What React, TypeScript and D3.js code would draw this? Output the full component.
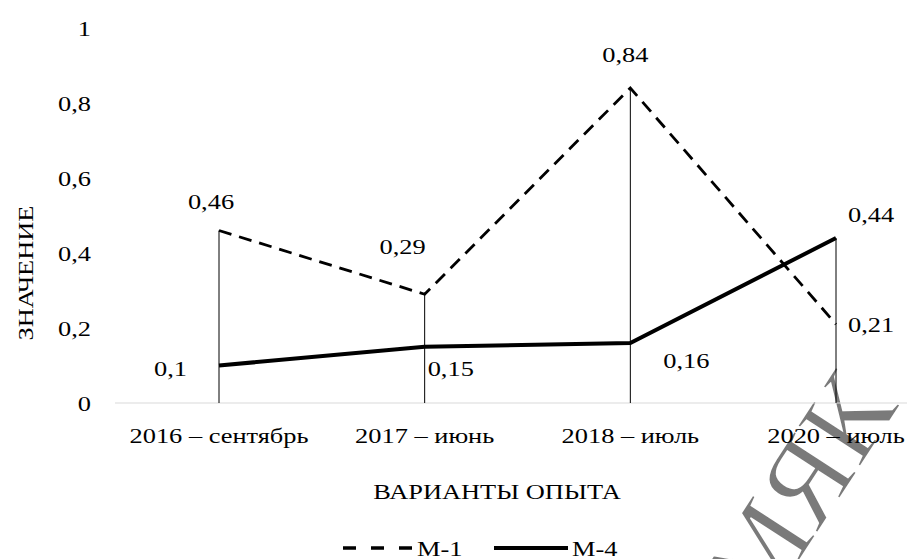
import * as d3 from 'd3';

const categories = ['2016 – сентябрь', '2017 – июнь', '2018 – июль', '2020 – июль'];
const m1 = [0.46, 0.29, 0.84, 0.21];
const m4 = [0.1, 0.15, 0.16, 0.44];
const yTicks = [0, 0.2, 0.4, 0.6, 0.8, 1];
const seriesNames = ['М-1', 'М-4'];

// label offsets relative to each point [dx, dy, anchor]
const m1Labels: [number, number, string][] = [[-8, -29, 'middle'], [-22, -48, 'middle'], [-5, -34, 'middle'], [12, 0, 'start']];
const m4Labels: [number, number, string][] = [[-32, 3, 'end'], [3, 22, 'start'], [56, 17, 'middle'], [12, -24, 'start']];

const width = 907;
const height = 559;
const fs = 22;
const sx = 1.2; // the reference text is stretched horizontally
const fmt = (v: number) => String(v).replace('.', ',');

function Label({ x, y, anchor = 'start', rotate = 0, children }: any) {
  return (
    <g transform={`translate(${x},${y}) rotate(${rotate}) scale(${sx},1)`}>
      <text dy="0.35em" textAnchor={anchor} fontSize={fs}>{children}</text>
    </g>
  );
}

export default function App() {
  const x = d3.scalePoint<string>().domain(categories).range([219, 836]);
  const y = d3.scaleLinear().domain([0, 1]).range([403, 28]);
  const line = d3.line<number>((d, i) => x(categories[i])!, (d) => y(d));

  return (
    <svg width={width} height={height} style={{ position: 'absolute', left: 0, top: 0, background: '#fff' }}
      fontFamily="'Liberation Serif', 'Times New Roman', serif">
      {/* watermark behind the chart */}
      <text transform="translate(762,618) rotate(-57)" fontSize={114} fill="#7a7a7a" stroke="#fff"
        strokeWidth={1.5}>МЯК</text>
      <line x1={115} x2={907} y1={y(0)} y2={y(0)} stroke="#d9d9d9" strokeWidth={1.2} />
      {yTicks.map((t) => (
        <Label key={t} x={91} y={y(t)} anchor="end">{fmt(t)}</Label>
      ))}
      {categories.map((c, i) => (
        <g key={c}>
          <line x1={x(c)} x2={x(c)} y1={y(Math.max(m1[i], m4[i]))} y2={y(0)} stroke="#000" strokeWidth={1} />
          <Label x={x(c)} y={435} anchor="middle">{c}</Label>
        </g>
      ))}
      <path d={line(m1)!} fill="none" stroke="#000" strokeWidth={2.8} strokeDasharray="13 8" />
      <path d={line(m4)!} fill="none" stroke="#000" strokeWidth={4} />
      {m1.map((v, i) => (
        <Label key={'a' + i} x={x(categories[i])! + m1Labels[i][0]} y={y(v) + m1Labels[i][1]}
          anchor={m1Labels[i][2]}>{fmt(v)}</Label>
      ))}
      {m4.map((v, i) => (
        <Label key={'b' + i} x={x(categories[i])! + m4Labels[i][0]} y={y(v) + m4Labels[i][1]}
          anchor={m4Labels[i][2]}>{fmt(v)}</Label>
      ))}
      <Label x={497} y={491} anchor="middle">ВАРИАНТЫ ОПЫТА</Label>
      <Label x={25} y={273} anchor="middle" rotate={-90}>ЗНАЧЕНИЕ</Label>
      <line x1={343} x2={412} y1={548} y2={548} stroke="#000" strokeWidth={3.5} strokeDasharray="13 15" />
      <Label x={417} y={548}>{seriesNames[0]}</Label>
      <line x1={494} x2={568} y1={548} y2={548} stroke="#000" strokeWidth={4} />
      <Label x={572} y={548}>{seriesNames[1]}</Label>
    </svg>
  );
}
